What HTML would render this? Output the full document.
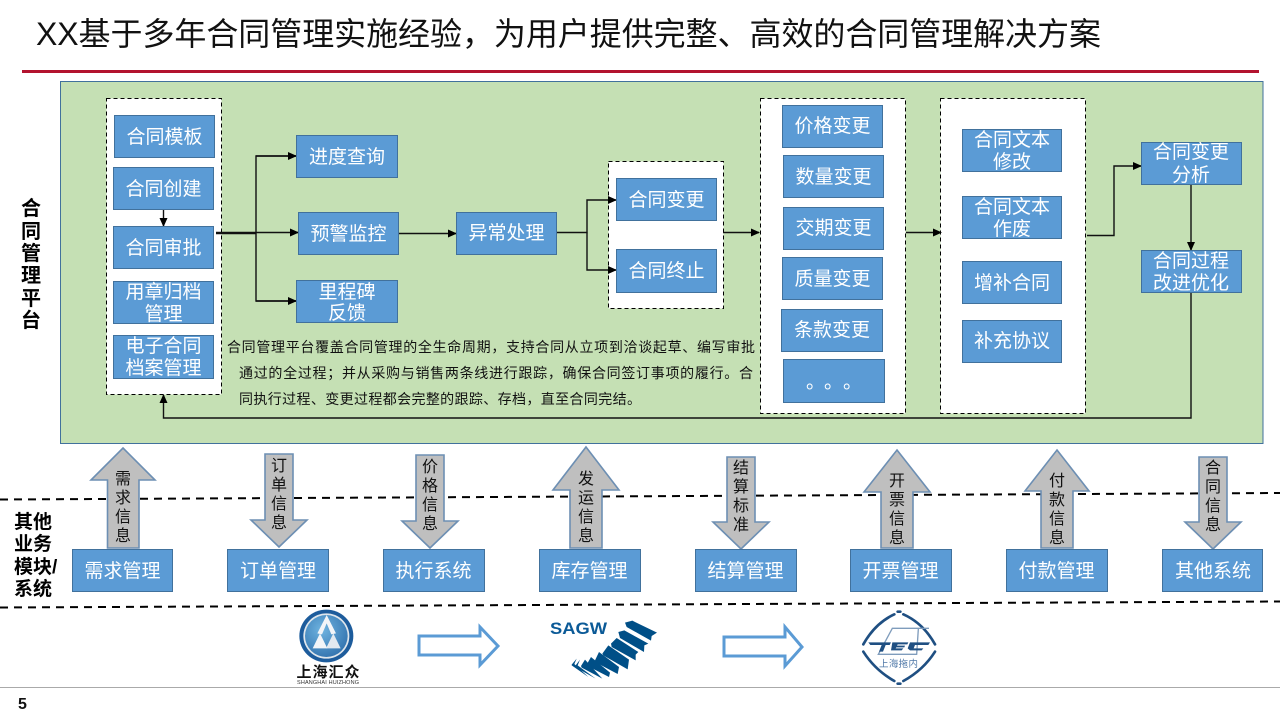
<!DOCTYPE html>
<html>
<head>
<meta charset="utf-8">
<style>
html,body{margin:0;padding:0;background:#fff;width:1280px;height:720px;overflow:hidden}
svg{display:block}
text{font-family:"Liberation Sans","Noto Sans CJK SC",sans-serif}
.b{fill:#5b9bd5;stroke:#41719c;stroke-width:1}
.d{fill:#fff;stroke:#000;stroke-width:1;stroke-dasharray:4 3}
.w{fill:#fff;font-size:19px;text-anchor:middle}
.c{fill:none;stroke:#111;stroke-width:1.4}
.a{fill:#bfbfbf;stroke:#6d8fb3;stroke-width:1.6}
.v{fill:#111;font-size:16px;text-anchor:middle}
.p{fill:#111;font-size:14px}
.l{fill:#000;font-size:20px;font-weight:700}
.k{fill:#000;font-size:19px;font-weight:700}
.h{fill:none;stroke:#5b9bd5;stroke-width:3}
</style>
</head>
<body>
<svg width="1280" height="720" viewBox="0 0 1280 720" xmlns="http://www.w3.org/2000/svg">
<defs>
<marker id="m" markerWidth="9" markerHeight="8" refX="8" refY="4" orient="auto" markerUnits="userSpaceOnUse"><path d="M0 0L9 4L0 8Z" fill="#000"/></marker>
<radialGradient id="g1" cx="0.4" cy="0.35" r="0.8"><stop offset="0" stop-color="#6fb4e0"/><stop offset="1" stop-color="#2a6aa8"/></radialGradient>
</defs>

<text x="36" y="45" font-size="32" fill="#111" textLength="1065">XX基于多年合同管理实施经验，为用户提供完整、高效的合同管理解决方案</text>
<rect x="22" y="70" width="1237" height="3" fill="#b3132f"/>

<rect x="60.5" y="81.5" width="1202.5" height="362" fill="#c5e0b4" stroke="#41719c"/>

<rect class="d" x="106.5" y="98.5" width="115" height="296"/>
<rect class="d" x="608.5" y="161.5" width="115" height="147"/>
<rect class="d" x="760.5" y="98.5" width="145" height="315"/>
<rect class="d" x="940.5" y="98.5" width="145" height="315"/>

<!-- connectors -->
<path class="c" d="M163.500 209V226" marker-end="url(#m)"/>
<path d="M216 233H256" stroke="#111" stroke-width="2.4" fill="none"/>
<path class="c" d="M296 156H256V301H296" fill="none"/>
<path class="c" d="M256 156H296" marker-end="url(#m)"/>
<path class="c" d="M256 232.500H298" marker-end="url(#m)"/>
<path class="c" d="M256 301H296" marker-end="url(#m)"/>
<path class="c" d="M398 233.500H456" marker-end="url(#m)"/>
<path class="c" d="M556 232.500H587V200H616" marker-end="url(#m)"/>
<path class="c" d="M587 232.500V270H616" marker-end="url(#m)"/>
<path class="c" d="M723 232.500H759" marker-end="url(#m)"/>
<path class="c" d="M906 232.500H941" marker-end="url(#m)"/>
<path class="c" d="M1087 235.500H1114V166H1141" marker-end="url(#m)"/>
<path class="c" d="M1191 184V250" marker-end="url(#m)"/>
<path class="c" d="M1191 292V418H163.500V395" marker-end="url(#m)"/>

<!-- left column -->
<rect class="b" x="114.500" y="115.500" width="100" height="42"/><text class="w" x="164.500" y="143">合同模板</text>
<rect class="b" x="113.500" y="167.500" width="100" height="42"/><text class="w" x="163.500" y="195">合同创建</text>
<rect class="b" x="113.500" y="226.500" width="100" height="42"/><text class="w" x="163.500" y="254">合同审批</text>
<rect class="b" x="113.500" y="281.500" width="100" height="42"/><text class="w" x="163.500" y="298">用章归档</text><text class="w" x="163.500" y="320">管理</text>
<rect class="b" x="113.500" y="335.500" width="100" height="43"/><text class="w" x="163.500" y="352">电子合同</text><text class="w" x="163.500" y="374">档案管理</text>

<rect class="b" x="296.500" y="135.500" width="101" height="42"/><text class="w" x="347" y="163">进度查询</text>
<rect class="b" x="298.500" y="212.500" width="100" height="42"/><text class="w" x="348.500" y="240">预警监控</text>
<rect class="b" x="296.500" y="280.500" width="101" height="42"/><text class="w" x="347" y="298">里程碑</text><text class="w" x="347" y="319">反馈</text>
<rect class="b" x="456.500" y="212.500" width="100" height="42"/><text class="w" x="506.500" y="239">异常处理</text>

<rect class="b" x="616.500" y="178.500" width="100" height="42"/><text class="w" x="666.500" y="206">合同变更</text>
<rect class="b" x="616.500" y="249.500" width="100" height="43"/><text class="w" x="666.500" y="277">合同终止</text>

<rect class="b" x="782.500" y="105.500" width="100" height="42"/><text class="w" x="832.500" y="132">价格变更</text>
<rect class="b" x="783.500" y="155.500" width="100" height="42"/><text class="w" x="833.500" y="183">数量变更</text>
<rect class="b" x="783.500" y="207.500" width="100" height="42"/><text class="w" x="833.500" y="234">交期变更</text>
<rect class="b" x="782.500" y="257.500" width="100" height="42"/><text class="w" x="832.500" y="285">质量变更</text>
<rect class="b" x="781.500" y="309.500" width="101" height="42"/><text class="w" x="832" y="336">条款变更</text>
<rect class="b" x="783.500" y="359.500" width="101" height="43"/>
<text x="806" y="388" fill="#fff" font-size="19">。</text><text x="824" y="388" fill="#fff" font-size="19">。</text><text x="843" y="388" fill="#fff" font-size="19">。</text>

<rect class="b" x="962.500" y="129.500" width="99" height="42"/><text class="w" x="1012" y="146">合同文本</text><text class="w" x="1012" y="168">修改</text>
<rect class="b" x="962.500" y="196.500" width="99" height="42"/><text class="w" x="1012" y="213">合同文本</text><text class="w" x="1012" y="235">作废</text>
<rect class="b" x="962.500" y="261.500" width="99" height="42"/><text class="w" x="1012" y="289">增补合同</text>
<rect class="b" x="962.500" y="320.500" width="99" height="42"/><text class="w" x="1012" y="347">补充协议</text>

<rect class="b" x="1141.500" y="142.500" width="100" height="42"/><text class="w" x="1191" y="158">合同变更</text><text class="w" x="1191" y="181">分析</text>
<rect class="b" x="1141.500" y="250.500" width="100" height="42"/><text class="w" x="1191" y="267">合同过程</text><text class="w" x="1191" y="289">改进优化</text>

<text class="p" x="227" y="352" textLength="528">合同管理平台覆盖合同管理的全生命周期，支持合同从立项到洽谈起草、编写审批</text>
<text class="p" x="239" y="378" textLength="514">通过的全过程；并从采购与销售两条线进行跟踪，确保合同签订事项的履行。合</text>
<text class="p" x="239" y="404" textLength="402">同执行过程、变更过程都会完整的跟踪、存档，直至合同完结。</text>

<!-- side labels -->
<text class="l" x="31" y="215" text-anchor="middle">合</text>
<text class="l" x="31" y="238" text-anchor="middle">同</text>
<text class="l" x="31" y="260" text-anchor="middle">管</text>
<text class="l" x="31" y="282" text-anchor="middle">理</text>
<text class="l" x="31" y="305" text-anchor="middle">平</text>
<text class="l" x="31" y="327" text-anchor="middle">台</text>
<text class="k" x="14" y="528">其他</text>
<text class="k" x="14" y="550">业务</text>
<text class="k" x="14" y="573">模块/</text>
<text class="k" x="14" y="595">系统</text>

<!-- dashed separators -->
<path d="M0 499.500L1280 493" stroke="#000" stroke-width="2" stroke-dasharray="8 6" fill="none"/>
<path d="M0 607.500L1280 601.500" stroke="#000" stroke-width="2" stroke-dasharray="8 6" fill="none"/>

<!-- block arrows -->
<path class="a" d="M123 448L155 480H139V548H107.500V480H91Z"/>
<path class="a" d="M265 454H293V520H307L279 547L251 520H265Z"/>
<path class="a" d="M416 455H444V521H458L430 548L402 521H416Z"/>
<path class="a" d="M586 447L619 490H602V548H570V490H553Z"/>
<path class="a" d="M727 457H755V522H769L741 549L713 522H727Z"/>
<path class="a" d="M897 450L930 492H913V548H881V492H864Z"/>
<path class="a" d="M1057 450L1089 491H1073V548H1041V491H1025Z"/>
<path class="a" d="M1199 457H1227V522H1241L1213 549L1185 522H1199Z"/>

<text class="v" x="123" y="484">需</text><text class="v" x="123" y="503">求</text><text class="v" x="123" y="522">信</text><text class="v" x="123" y="541">息</text>
<text class="v" x="279" y="471">订</text><text class="v" x="279" y="490">单</text><text class="v" x="279" y="509">信</text><text class="v" x="279" y="528">息</text>
<text class="v" x="430" y="472">价</text><text class="v" x="430" y="491">格</text><text class="v" x="430" y="510">信</text><text class="v" x="430" y="529">息</text>
<text class="v" x="586" y="484">发</text><text class="v" x="586" y="503">运</text><text class="v" x="586" y="522">信</text><text class="v" x="586" y="541">息</text>
<text class="v" x="741" y="473">结</text><text class="v" x="741" y="492">算</text><text class="v" x="741" y="511">标</text><text class="v" x="741" y="530">准</text>
<text class="v" x="897" y="486">开</text><text class="v" x="897" y="505">票</text><text class="v" x="897" y="524">信</text><text class="v" x="897" y="543">息</text>
<text class="v" x="1057" y="486">付</text><text class="v" x="1057" y="505">款</text><text class="v" x="1057" y="524">信</text><text class="v" x="1057" y="543">息</text>
<text class="v" x="1213" y="473">合</text><text class="v" x="1213" y="492">同</text><text class="v" x="1213" y="511">信</text><text class="v" x="1213" y="530">息</text>

<!-- system boxes -->
<rect class="b" x="72.500" y="549.500" width="100" height="42"/><text class="w" x="122.500" y="577">需求管理</text>
<rect class="b" x="227.500" y="549.500" width="101" height="42"/><text class="w" x="278" y="577">订单管理</text>
<rect class="b" x="383.500" y="549.500" width="101" height="42"/><text class="w" x="433.500" y="577">执行系统</text>
<rect class="b" x="539.500" y="549.500" width="101" height="42"/><text class="w" x="589.500" y="577">库存管理</text>
<rect class="b" x="695.500" y="549.500" width="101" height="42"/><text class="w" x="745.500" y="577">结算管理</text>
<rect class="b" x="850.500" y="549.500" width="101" height="42"/><text class="w" x="900.500" y="577">开票管理</text>
<rect class="b" x="1006.500" y="549.500" width="101" height="42"/><text class="w" x="1056.500" y="577">付款管理</text>
<rect class="b" x="1162.500" y="549.500" width="100" height="42"/><text class="w" x="1213" y="577">其他系统</text>

<!-- logo 1 -->
<g transform="translate(290 605) scale(.33333)">
<ellipse cx="109" cy="93" rx="81" ry="79" fill="#1d5c9c"/>
<ellipse cx="109" cy="93" rx="69" ry="68" fill="#dfe6ec"/>
<ellipse cx="109" cy="93" rx="64" ry="63" fill="url(#g1)"/>
<path d="M110 30L138 85L124 88L110 55L96 88L82 85Z" fill="#f2f5f8"/>
<path d="M90 85L112 130H68Z" fill="#f2f5f8"/>
<path d="M130 85L152 130H108Z" fill="#e2e9f0"/>
</g>
<text x="328" y="677" font-size="15" font-weight="700" fill="#111" text-anchor="middle" textLength="63">上海汇众</text>
<text x="328" y="684" font-size="5.500" fill="#333" text-anchor="middle" textLength="62">SHANGHAI HUIZHONG</text>

<path class="h" d="M419 636H480V627L498 646L480 665V655H419Z"/>

<!-- logo 2 -->
<text x="550" y="634" font-size="17" font-weight="700" fill="#0b5a97" textLength="57" lengthAdjust="spacingAndGlyphs">SAGW</text>
<g transform="translate(545 612) scale(.33333)" fill="#004f87">
<path d="M240 32L262 26L336 62L320 72L318 86L245 45Z"/>
<path d="M220 60L238 55L310 95L298 100L297 120L225 78Z"/>
<path d="M198 95L215 78L280 120L272 128L272 145L200 105Z"/>
<path d="M172 125L190 100L252 143L248 172L175 130Z"/>
<path d="M150 145L162 120L222 165L218 186L150 150Z"/>
<path d="M125 158L138 135L195 182L192 195L128 162Z"/>
<path d="M108 162L120 143L172 200L110 167Z"/>
<path d="M92 160L105 143L98 160L152 200L90 165Z"/>
<path d="M80 158L95 140L88 156L130 195L80 160Z"/>
</g>

<path class="h" d="M724 637H785V627L802 647L785 666V656H724Z"/>

<!-- logo 3 -->
<g transform="translate(855 605) scale(.33333)">
<g fill="none" stroke="#1f4f82" stroke-width="8" stroke-linecap="round">
<path d="M118 28Q60 55 25 118"/>
<path d="M145 28Q205 55 240 118"/>
<path d="M25 140Q60 195 118 228"/>
<path d="M240 140Q205 195 145 228"/>
<path d="M128 20H136"/>
<path d="M128 236H136"/>
</g>
<path d="M222 70H112L70 148H185L190 72" fill="none" stroke="#7f9cbc" stroke-width="4"/>
<path d="M40 112H108L104 120H92L84 140H72L80 120H46Z" fill="#1f4f82"/>
<path d="M112 112H160L157 118H128L126 122H150L148 127H124L122 130H145L140 136H108Z" fill="#1f4f82"/>
<path d="M165 112H225L220 120H180L176 130H205L200 136H165L158 130Z" fill="#1f4f82"/>
</g>
<text x="879" y="667" font-size="9.500" fill="#4f78a8" textLength="39">上海拖内</text>

<!-- footer -->
<rect x="0" y="687" width="1280" height="1" fill="#aaa"/>
<text x="18" y="709" font-size="16" font-weight="700" fill="#111">5</text>
</svg>
</body>
</html>
